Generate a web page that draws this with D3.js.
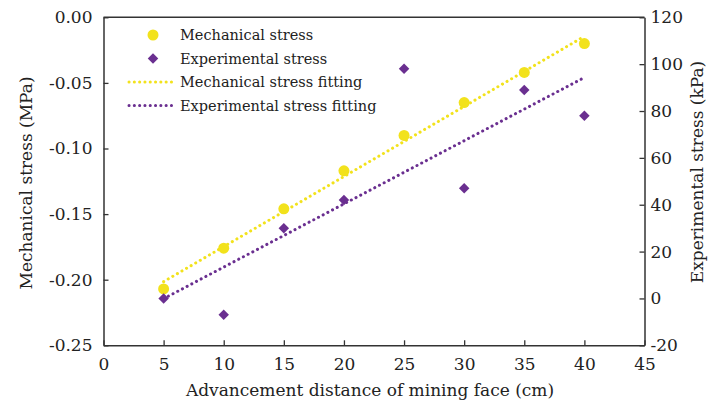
<!DOCTYPE html>
<html>
<head>
<meta charset="utf-8">
<script src="https://cdn.jsdelivr.net/npm/d3@7"></script>
<style>
  html, body { margin: 0; padding: 0; background: #fff; }
  svg { display: block; }
  text { font-family: "DejaVu Serif", "Liberation Serif", serif; fill: #222; }
</style>
</head>
<body>
<svg id="chart" width="713" height="406"></svg>
<script>
// Advancement distance of the mining face (cm)
const distance = [5, 10, 15, 20, 25, 30, 35, 40];
// Mechanical stress (MPa), left axis
const mechanicalStress = [-0.207, -0.176, -0.146, -0.117, -0.090, -0.065, -0.042, -0.020];
// Experimental stress (kPa), right axis
const experimentalStress = [0, -7, 30, 42, 98, 47, 89, 78];
// Linear fitting lines, values at the first and last distance
const fitRange = [5, 40];
const mechanicalFit = [-0.2015, -0.0145];
const experimentalFit = [-0.1, 94.3];

const xTicks = [0, 5, 10, 15, 20, 25, 30, 35, 40, 45];
const leftTicks = [0.00, -0.05, -0.10, -0.15, -0.20, -0.25];
const rightTicks = [120, 100, 80, 60, 40, 20, 0, -20];

const legendLabels = ["Mechanical stress", "Experimental stress",
  "Mechanical stress fitting", "Experimental stress fitting"];

const yellow = "#f2e21c";
const purple = "#6a2f90";

const svg = d3.select("#chart");
const m = { left: 103.5, right: 644.5, top: 17.3, bottom: 345.3 };

const x = d3.scaleLinear().domain([0, 45]).range([m.left, m.right]);
const yL = d3.scaleLinear().domain([-0.25, 0]).range([m.bottom, m.top]);
const yR = d3.scaleLinear().domain([-20, 120]).range([m.bottom, m.top]);

const axisColor = "#333";
const fontSize = 17;

// Frame: top edge line
svg.append("line")
  .attr("x1", m.left).attr("x2", m.right)
  .attr("y1", m.top).attr("y2", m.top)
  .attr("stroke", axisColor).attr("stroke-width", 1.5);

function styleAxis(g) {
  g.select(".domain").attr("stroke", axisColor).attr("stroke-width", 1.5);
  g.selectAll(".tick line").attr("stroke", axisColor).attr("stroke-width", 1.3);
  g.selectAll(".tick text")
    .attr("font-family", "DejaVu Serif, serif")
    .attr("font-size", fontSize).attr("fill", "#222");
}

// Bottom axis, ticks pointing inward
svg.append("g")
  .attr("transform", `translate(0,${m.bottom})`)
  .call(d3.axisBottom(x).tickValues(xTicks).tickFormat(d3.format("d"))
    .tickSizeInner(-5).tickSizeOuter(0).tickPadding(13))
  .call(styleAxis);

// Left axis
svg.append("g")
  .attr("transform", `translate(${m.left},0)`)
  .call(d3.axisLeft(yL).tickValues(leftTicks).tickFormat(d => d3.format(".2f")(d).replace("−", "-"))
    .tickSizeInner(-5).tickSizeOuter(0).tickPadding(11))
  .call(styleAxis);

// Right axis
svg.append("g")
  .attr("transform", `translate(${m.right},0)`)
  .call(d3.axisRight(yR).tickValues(rightTicks).tickFormat(d => d3.format("d")(d).replace("−", "-"))
    .tickSizeInner(-5).tickSizeOuter(0).tickPadding(6))
  .call(styleAxis);

// Axis titles
svg.append("text")
  .attr("x", 370).attr("y", 396)
  .attr("text-anchor", "middle").attr("font-size", fontSize)
  .text("Advancement distance of mining face (cm)");

svg.append("text")
  .attr("transform", "translate(32,183) rotate(-90)")
  .attr("text-anchor", "middle").attr("font-size", fontSize)
  .text("Mechanical stress (MPa)");

svg.append("text")
  .attr("transform", "translate(703,172) rotate(-90)")
  .attr("text-anchor", "middle").attr("font-size", fontSize)
  .text("Experimental stress (kPa)");

// Fitting lines (dotted)
const dotted = { "stroke-width": 3, "stroke-linecap": "round", "stroke-dasharray": "0.1 5.2" };
function fitLine(scale, vals, color) {
  const line = d3.line().x(d => x(d[0])).y(d => scale(d[1]));
  const p = svg.append("path")
    .datum(fitRange.map((d, i) => [d, vals[i]]))
    .attr("d", line).attr("fill", "none").attr("stroke", color);
  Object.entries(dotted).forEach(([k, v]) => p.attr(k, v));
}
fitLine(yL, mechanicalFit, yellow);
fitLine(yR, experimentalFit, purple);

// Mechanical stress points
svg.append("g").selectAll("circle")
  .data(distance.map((d, i) => [d, mechanicalStress[i]]))
  .join("circle")
  .attr("cx", d => x(d[0])).attr("cy", d => yL(d[1]))
  .attr("r", 5.5).attr("fill", yellow);

// Experimental stress points
const diamond = d3.symbol().type(d3.symbolDiamond2).size(70);
svg.append("g").selectAll("path")
  .data(distance.map((d, i) => [d, experimentalStress[i]]))
  .join("path")
  .attr("transform", d => `translate(${x(d[0])},${yR(d[1])})`)
  .attr("d", diamond).attr("fill", purple);

// Legend
const lg = svg.append("g");
const rowY = [35, 58.5, 82, 105.5];
const textX = 180;
lg.append("circle").attr("cx", 153).attr("cy", rowY[0]).attr("r", 5.5).attr("fill", yellow);
lg.append("path").attr("transform", `translate(153,${rowY[1]})`).attr("d", diamond).attr("fill", purple);
[[rowY[2], yellow], [rowY[3], purple]].forEach(([yy, c]) => {
  const p = lg.append("line").attr("x1", 129).attr("x2", 175).attr("y1", yy).attr("y2", yy).attr("stroke", c);
  Object.entries(dotted).forEach(([k, v]) => p.attr(k, v));
});
lg.selectAll("text.leg").data(legendLabels).join("text")
  .attr("class", "leg")
  .attr("x", textX).attr("y", (d, i) => rowY[i] + 5)
  .attr("font-size", 14.5)
  .text(d => d);
</script>
</body>
</html>
